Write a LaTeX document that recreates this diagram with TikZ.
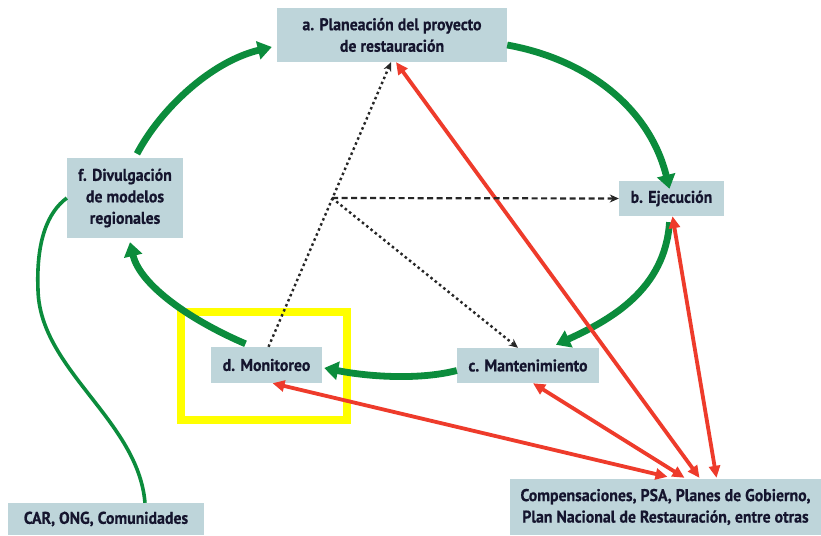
\documentclass[tikz,border=0pt]{standalone}
\usepackage{fontspec}
\setmainfont{PT Sans}[FakeStretch=0.93, BoldFont={PT Sans Bold}, BoldFeatures={FakeBold=0.6}]
\usetikzlibrary{arrows.meta}
\definecolor{boxfill}{HTML}{BED5DA}
\definecolor{grn}{HTML}{0B8C3C}
\definecolor{rd}{HTML}{EE3B2B}
\definecolor{txt}{HTML}{15152E}
\definecolor{hly}{HTML}{FFFF00}
\begin{document}
\begin{tikzpicture}[x=1pt,y=-1pt,
 box/.style={fill=boxfill, text=txt, font=\bfseries\fontsize{17}{21.5}\selectfont, align=center, inner sep=0pt},
 cyc/.style={draw=grn, line width=6.8pt, -{Triangle[length=14pt,width=18pt]}},
 link/.style={draw=grn, line width=3.6pt},
 rel/.style={draw=rd, line width=3.8pt, {Triangle[length=12pt,width=11pt]}-{Triangle[length=12pt,width=11pt]}},
 dotl/.style={draw=black!85, line width=2.4pt, dash pattern=on 2.5pt off 3pt, -{Stealth[length=9pt,width=8pt]}},
 dashl/.style={draw=black!85, line width=2.2pt, dash pattern=on 6pt off 3.5pt, -{Stealth[length=9pt,width=8pt]}}
]
\useasboundingbox[fill=white] (0,0) rectangle (821,535);
% highlight
\node[draw=hly, line width=7.5pt, minimum width=166pt, minimum height=108pt, inner sep=0pt] (hl) at (264,366) {};
% boxes
\node[box, minimum width=230pt, minimum height=54pt] (a) at (392,35) {a. Planeación del proyecto\\de restauración};
\node[box, minimum width=105pt, minimum height=35pt] (b) at (671.5,198.5) {b. Ejecución};
\node[box, minimum width=142pt, minimum height=35pt] (c) at (528,365.5) {c. Mantenimiento};
\node[box, minimum width=111pt, minimum height=36pt] (d) at (266.5,365) {d. Monitoreo};
\node[box, minimum width=116pt, minimum height=80pt] (f) at (125,198) {f. Divulgación\\de modelos\\regionales};
\node[box, minimum width=196pt, minimum height=32pt] (car) at (106,519) {CAR, ONG, Comunidades};
\node[box, minimum width=311pt, minimum height=56pt] (comp) at (665.5,507) {Compensaciones, PSA, Planes de Gobierno,\\Plan Nacional de Restauración, entre otras};
% green cycle
\draw[cyc] ([yshift=-10pt]a.east) .. controls (590,60) and (650,110) .. ([xshift=-2pt,yshift=-8pt]b.north);
\draw[cyc] ([xshift=-2pt,yshift=-6pt]b.south) .. controls (665,290) and (610,320) .. ([xshift=28pt,yshift=3pt]c.north);
\draw[cyc] ([yshift=-5pt]c.west) .. controls (420,380) and (370,377) .. ([xshift=2pt,yshift=-3pt]d.east);
\draw[cyc] ([xshift=-21pt,yshift=3pt]d.north) .. controls (190,320) and (140,285) .. ([xshift=5pt,yshift=-4pt]f.south);
\draw[cyc] ([xshift=12pt,yshift=4pt]f.north) .. controls (160,110) and (210,62) .. ([xshift=-5pt,yshift=-12pt]a.west);
% thin green link
\draw[link] ([xshift=39pt]car.north) .. controls (138,420) and (40,370) .. (38,290) .. controls (36,240) and (48,212) .. (f.west);
% red relations
\draw[rel] ([xshift=4pt]a.south) -- ([xshift=34pt,yshift=1pt]comp.north);
\draw[rel] ([xshift=1pt]b.south) -- ([xshift=51pt,yshift=1pt]comp.north);
\draw[rel] ([xshift=5pt]c.south) -- ([xshift=19pt,yshift=1pt]comp.north);
\draw[rel] ([xshift=6pt]d.south) -- ([xshift=2pt,yshift=2pt]comp.north);
% black dependencies
\coordinate (J) at (332,198);
\draw[dotl] ([xshift=2pt]d.north) -- ([xshift=-1pt]a.south);
\draw[dashl] (J) -- (b.west);
\draw[dotl] (J) -- ([xshift=-10pt]c.north);
\end{tikzpicture}
\end{document}
